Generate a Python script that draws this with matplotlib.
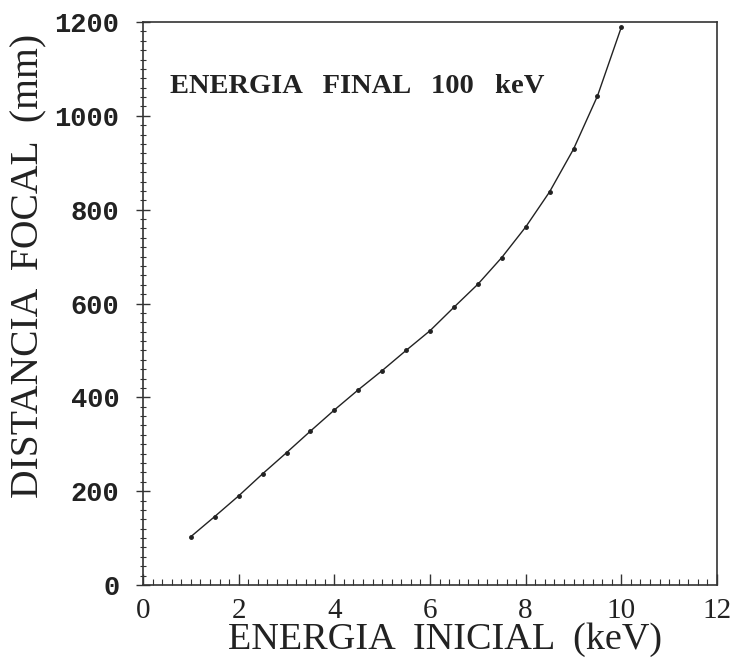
import matplotlib
matplotlib.use("Agg")
import matplotlib.pyplot as plt
from matplotlib.ticker import MultipleLocator

# Data
energia_inicial = [1.0, 1.5, 2.0, 2.5, 3.0, 3.5, 4.0, 4.5, 5.0, 5.5, 6.0, 6.5,
                   7.0, 7.5, 8.0, 8.5, 9.0, 9.5, 10.0]
distancia_focal = [103, 146, 190, 237, 282, 328, 373, 416, 457, 500, 542, 592,
                   641, 698, 763, 838, 929, 1042, 1189]
x_ticks = [0, 2, 4, 6, 8, 10, 12]
y_ticks = [0, 200, 400, 600, 800, 1000, 1200]

fig = plt.figure(figsize=(7.39, 6.61), dpi=100)
ax = fig.add_axes([143/739, (661-585)/661, (717-143)/739, (585-22)/661])

ax.plot(energia_inicial, distancia_focal, color="#222222", lw=1.0,
        marker="o", ms=2.5, mfc="#222222", mec="#222222")

ax.set_xlim(0, 12)
ax.set_ylim(0, 1200)
ax.set_xticks(x_ticks)
ax.set_yticks(y_ticks)
ax.xaxis.set_minor_locator(MultipleLocator(0.2))
ax.yaxis.set_minor_locator(MultipleLocator(20))

ax.tick_params(axis="x", which="major", direction="in", length=8, width=1.0,
               top=False, pad=9, color="#333333")
ax.tick_params(axis="x", which="minor", direction="in", length=4.5, width=0.8,
               top=False, color="#333333")
ax.tick_params(axis="y", which="major", direction="inout", length=10, width=1.0,
               right=False, pad=12, color="#333333")
ax.tick_params(axis="y", which="minor", direction="inout", length=5, width=0.8,
               right=False, color="#333333")

for lab in ax.get_xticklabels():
    lab.set_family("Liberation Serif")
    lab.set_fontsize(21)
    lab.set_color("#222222")
for lab in ax.get_yticklabels():
    lab.set_family("Liberation Mono")
    lab.set_fontweight("bold")
    lab.set_fontsize(19.5)
    lab.set_color("#222222")

for s in ax.spines.values():
    s.set_linewidth(1.2)
    s.set_color("#333333")

ax.set_xlabel("ENERGIA  INICIAL  (keV)", family="Liberation Serif", fontsize=27.5,
              color="#222222")
ax.xaxis.set_label_coords((444.5-143)/574, (585-622)/563)
ax.set_ylabel("DISTANCIA  FOCAL  (mm)", family="Liberation Serif", fontsize=28.5,
              color="#222222")
ax.yaxis.set_label_coords((47-143)/574, (585-266)/563)

ax.text(0.047, 0.886, "ENERGIA   FINAL   100   keV", transform=ax.transAxes,
        family="Liberation Serif", fontweight="bold", fontsize=20.5,
        ha="left", va="center", color="#222222")

fig.savefig("out.png", dpi=100)
